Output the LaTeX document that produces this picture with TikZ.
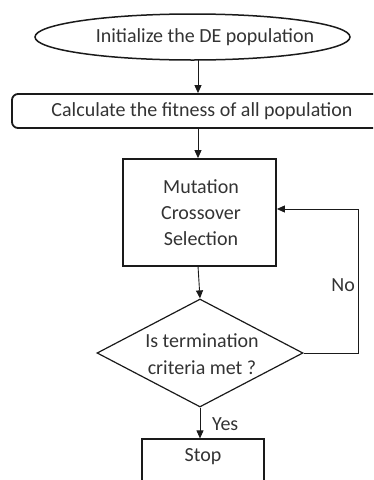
\documentclass[tikz,border=0pt]{standalone}
\usepackage{fontspec}
\setmainfont{Carlito}
\usetikzlibrary{shapes.geometric,arrows.meta}
\definecolor{txt}{HTML}{333333}
\definecolor{ln}{HTML}{1A1A1A}
\tikzset{
  lbl/.style={text=txt,font=\fontsize{20}{26}\selectfont,inner sep=0pt,align=center},
  shp/.style={draw=ln,inner sep=0pt},
  conn/.style={draw=ln,line width=0.9pt,-{Triangle[length=8pt,width=7pt]}},
  plain/.style={draw=ln,line width=0.9pt}
}
\begin{document}
\begin{tikzpicture}[x=1pt,y=-1pt]
\useasboundingbox (0,0) rectangle (373,480);
\clip (0,0) rectangle (373,480);
% shapes
\node[shp,ellipse,line width=1.5pt,minimum width=315pt,minimum height=46pt] (init) at (192.5,37) {};
\node[lbl] (initt) at (205,37) {Initialize the DE population};
\node[shp,rectangle,rounded corners=6pt,line width=1.8pt,minimum width=380pt,minimum height=34pt] (fit) at (202,111) {};
\node[lbl] (fitt) at (202,111) {Calculate the fitness of all population};
\node[shp,rectangle,line width=1.8pt,minimum width=153pt,minimum height=107pt] (ops) at (199.5,212.5) {};
\node[lbl] (opst) at (201,213) {Mutation\\Crossover\\Selection};
\node[shp,diamond,line width=1.2pt,minimum width=206pt,minimum height=108pt] (dec) at (200,353) {};
\node[lbl,font=\fontsize{20}{27}\selectfont] (dect) at (202,354.5) {Is termination\\criteria met ?};
\node[shp,rectangle,line width=1.2pt,minimum width=122pt,minimum height=50pt] (stop) at (203,464) {};
\node[lbl] (stopt) at (203,457) {Stop};
% connectors
\coordinate (a1) at (198,60);
\coordinate (a2) at (198,128);
\coordinate (a3) at (198,266);
\draw[conn] (a1) -- (a1 |- fit.north);
\draw[conn] (a2) -- (a2 |- ops.north);
\draw[conn] (a3) -- (dec.north);
\coordinate (fbr) at (358,353);
\coordinate (fbt) at (358,209);
\draw[plain] (dec.east) -- (fbr) -- (fbt);
\draw[conn] (fbt) -- (fbt -| ops.east);
\node[lbl,anchor=east] (no) at (355,285) {No};
\draw[conn] (dec.south) -- (dec.south |- stop.north);
\node[lbl,anchor=west] (yes) at (212,424) {Yes};
\end{tikzpicture}
\end{document}
